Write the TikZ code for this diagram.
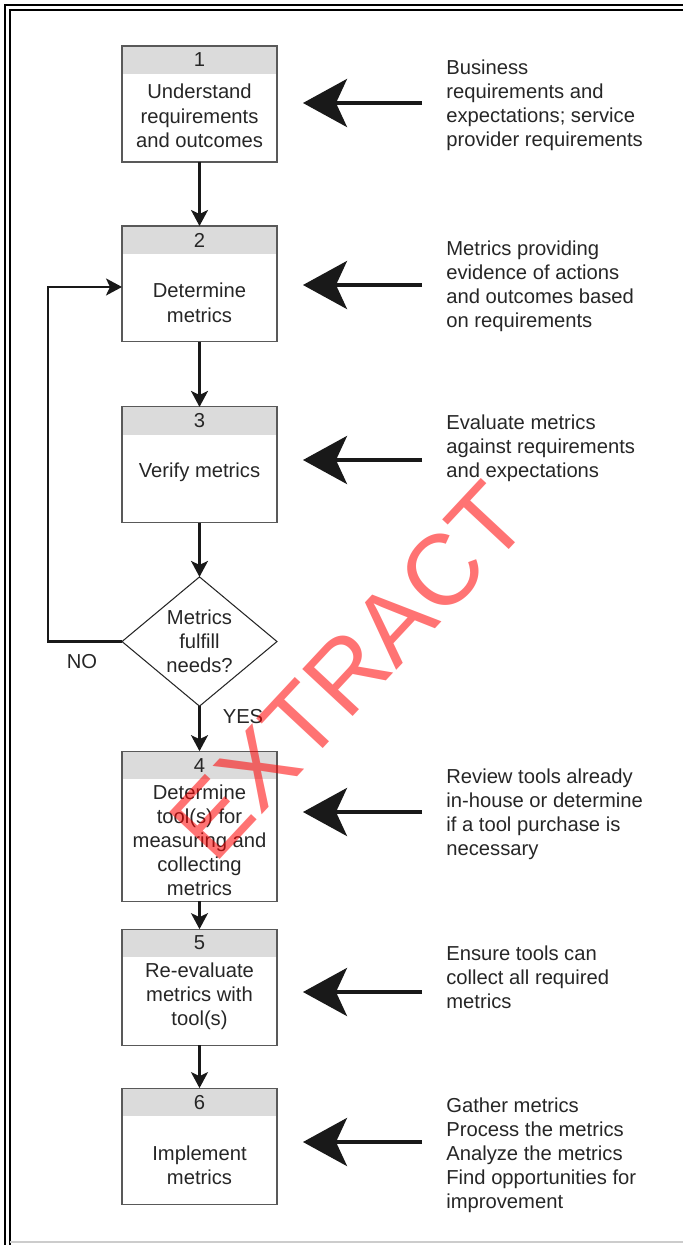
\documentclass[tikz,border=0pt]{standalone}
\usepackage{fontspec}
\setmainfont{Liberation Sans}
\usetikzlibrary{arrows.meta, positioning, shapes.geometric}

% text block raised inside a step box
\newcommand\lift[2]{\raisebox{#1}[0pt][0pt]{\begin{tabular}{@{}c@{}}#2\end{tabular}}}

\begin{document}
\begin{tikzpicture}[x=0.02cm, y=-0.02cm,
  font=\fontsize{11.5}{13.7}\selectfont,
  hdr/.style={fill=black!14, minimum width=3.1cm, minimum height=0.56cm, inner sep=0, outer sep=0, text=black!85},
  body/.style={minimum width=3.1cm, minimum height=1.76cm, inner sep=0, outer sep=0, align=center, text=black!85},
  boxline/.style={draw=black!65, line width=0.6pt},
  flow/.style={-{Stealth[length=0.32cm, width=0.34cm, inset=0.08cm]}, line width=1.2pt, black!90},
  feed/.style={-{Stealth[length=0.88cm, width=0.96cm, inset=0.22cm]}, line width=2.3pt, black!90},
  note/.style={anchor=west, align=left, text=black!85, inner sep=0},
  ]
\useasboundingbox (0,0) rectangle (683,1245);

% frame
\draw[line width=1.1pt] (683,5) -- (5,5) -- (5,1245);
\draw[line width=1.1pt] (683,10) -- (10,10) -- (10,1245);
\draw[black!20, line width=0.8pt] (10,1242) -- (683,1242);

% steps
\node[body] (s1) at (199.5,118) {\lift{-0.11cm}{Understand\\requirements\\and outcomes}};
\node[hdr, above=0pt of s1] (n1) {1};

\node[hdr, below=1.28cm of s1] (n2) {2};
\node[body, below=0pt of n2] (s2) {\lift{-0.25cm}{Determine\\metrics}};

\node[hdr, below=1.3cm of s2] (n3) {3};
\node[body, below=0pt of n3] (s3) {\lift{0.02cm}{Verify metrics}};

\node[diamond, draw=black!85, line width=0.6pt, minimum width=3.1cm, minimum height=2.5cm,
  inner sep=0, outer sep=0, align=center, text=black!85, below=1.08cm of s3] (dec) {Metrics\\fulfill\\needs?};

\node[hdr, below=0.9cm of dec] (n4) {4};
\node[body, minimum height=2.44cm, below=0pt of n4] (s4) {Determine\\tool(s) for\\measuring and\\collecting\\metrics};

\node[hdr, below=0.56cm of s4] (n5) {5};
\node[body, below=0pt of n5] (s5) {\lift{-0.02cm}{Re-evaluate\\metrics with\\tool(s)}};

\node[hdr, below=0.86cm of s5] (n6) {6};
\node[body, below=0pt of n6] (s6) {\lift{-0.26cm}{Implement\\metrics}};

\foreach \i in {1,...,6}
  \draw[boxline] (n\i.north west) rectangle (s\i.south east);

% flow
\draw[flow] (s1.south) -- (n2.north);
\draw[flow] (s2.south) -- (n3.north);
\draw[flow] (s3.south) -- (dec.north);
\draw[flow] (dec.south) -- (n4.north);
\draw[flow] (s4.south) -- (n5.north);
\draw[flow] (s5.south) -- (n6.north);
\draw[flow] (dec.west) -- ++(-74,0) |- ([yshift=0.22cm]s2.west);

\node[text=black!85] (no) at (82,662) {NO};
\node[text=black!85] (yes) at (243,717) {YES};

% inputs
\node[note] (t1) at (446,105) {Business\\requirements and\\expectations; service\\provider requirements};
\node[note] (t2) at (446,286.5) {Metrics providing\\evidence of actions\\and outcomes based\\on requirements};
\node[note] (t3) at (446,448) {Evaluate metrics\\against requirements\\and expectations};
\node[note] (t4) at (446,814.5) {Review tools already\\in-house or determine\\if a tool purchase is\\necessary};
\node[note] (t5) at (446,977) {Ensure tools can\\collect all required\\metrics};
\node[note] (t6) at (446,1155) {Gather metrics\\Process the metrics\\Analyze the metrics\\Find opportunities for\\improvement};

\foreach \i/\y in {1/103, 2/285, 3/460, 4/812, 5/992, 6/1142}
  \coordinate (in\i) at (422,\y);
\foreach \i in {1,...,6}
  \draw[feed] (in\i) -- ([xshift=0.52cm]in\i -| s\i.east);

% watermark
\node[text=red, text opacity=0.55, font=\fontsize{57}{57}\selectfont, rotate=47] (wm) at (349,671) {EXTRACT};
\end{tikzpicture}
\end{document}
